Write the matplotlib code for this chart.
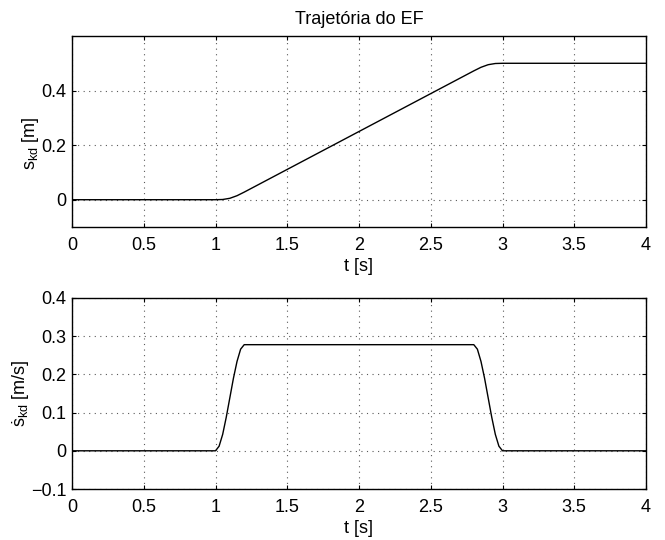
import matplotlib
matplotlib.use("Agg")
import matplotlib.pyplot as plt

# End-effector trajectory samples: time [s], position [m], velocity [m/s]
t_pos = [0.0, 1.0, 1.05, 1.1, 1.15, 1.2, 2.8, 2.85, 2.9, 2.95, 3.0, 4.0]
s_pos = [0.0, 0.0, 0.0008, 0.0052, 0.0147, 0.0278, 0.4722, 0.4853, 0.4948, 0.4992, 0.5, 0.5]

t_vel = [0.0, 1.0, 1.025, 1.05, 1.075, 1.1, 1.125, 1.15, 1.175, 1.2,
         2.8, 2.825, 2.85, 2.875, 2.9, 2.925, 2.95, 2.975, 3.0, 4.0]
s_vel = [0.0, 0.0, 0.012, 0.043, 0.088, 0.139, 0.190, 0.234, 0.266, 0.2778,
         0.2778, 0.266, 0.234, 0.190, 0.139, 0.088, 0.043, 0.012, 0.0, 0.0]

x_ticks = [0, 0.5, 1, 1.5, 2, 2.5, 3, 3.5, 4]
x_ticklabels = ["0", "0.5", "1", "1.5", "2", "2.5", "3", "3.5", "4"]
pos_yticks = [0, 0.2, 0.4]
pos_yticklabels = ["0", "0.2", "0.4"]
vel_yticks = [-0.1, 0, 0.1, 0.2, 0.3, 0.4]
vel_yticklabels = ["\u22120.1", "0", "0.1", "0.2", "0.3", "0.4"]

plt.rcParams["font.family"] = ["Liberation Sans", "DejaVu Sans"]
plt.rcParams["mathtext.fontset"] = "custom"
plt.rcParams["mathtext.rm"] = "Liberation Sans"
plt.rcParams["mathtext.it"] = "Liberation Sans"
FS = 13

fig = plt.figure(figsize=(6.65, 5.40), dpi=100)
ax1 = fig.add_axes([72 / 665, 1 - 227 / 540, 574 / 665, 191 / 540])
ax2 = fig.add_axes([72 / 665, 1 - 489 / 540, 574 / 665, 191 / 540])


def style(ax, yticks, yticklabels, ylim):
    ax.set_xlim(0, 4)
    ax.set_ylim(*ylim)
    ax.set_xticks(x_ticks)
    ax.set_xticklabels(x_ticklabels, fontsize=FS)
    ax.set_yticks(yticks)
    ax.set_yticklabels(yticklabels, fontsize=FS)
    ax.grid(True, linestyle=(0, (1, 4)), color="0.35", linewidth=0.8)
    ax.tick_params(direction="in", length=3, width=0.8, top=True, right=True)
    ax.tick_params(axis="x", pad=7)
    ax.tick_params(axis="y", pad=4)
    for sp in ax.spines.values():
        sp.set_linewidth(1.0)
    ax.set_xlabel("t [s]", fontsize=FS, labelpad=3)


ax1.plot(t_pos, s_pos, color="black", linewidth=1.0)
style(ax1, pos_yticks, pos_yticklabels, (-0.1, 0.6))
ax1.set_ylabel(r"s$_{\mathrm{kd}}$ [m]", fontsize=FS, va="center")
ax1.yaxis.set_label_coords(-0.073, 0.44)
ax1.set_title("Trajetória do EF", fontsize=FS, pad=9)

ax2.plot(t_vel, s_vel, color="black", linewidth=1.0)
style(ax2, vel_yticks, vel_yticklabels, (-0.1, 0.4))
ax2.set_ylabel("\u1e61" + r"$_{\mathrm{kd}}$ [m/s]", fontsize=FS, va="center")
ax2.yaxis.set_label_coords(-0.09, 0.5)

fig.savefig("out.png", dpi=100, facecolor="white")
